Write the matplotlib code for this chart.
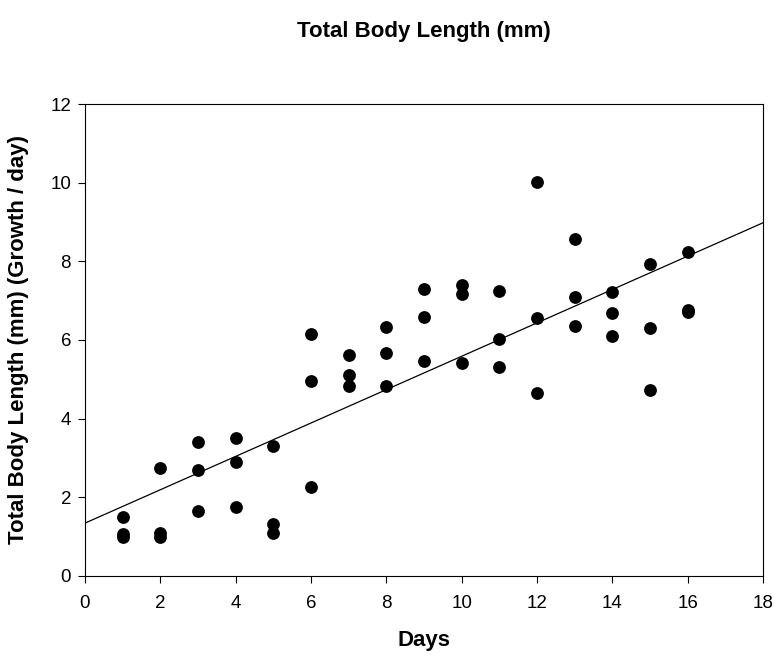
import matplotlib
matplotlib.use("Agg")
import matplotlib.pyplot as plt
import numpy as np

# three replicate measurements per day
days = [1, 2, 3, 4, 5, 6, 7, 8, 9, 10, 11, 12, 13, 14, 15, 16]
rep_a = [1.51, 2.75, 3.40, 3.50, 3.31, 6.14, 5.63, 6.33, 7.29, 7.41, 7.25, 10.01, 8.56, 7.21, 7.93, 8.23]
rep_b = [1.06, 1.09, 2.70, 2.90, 1.31, 4.97, 5.12, 5.66, 6.58, 7.17, 6.03, 6.56, 7.09, 6.68, 6.31, 6.76]
rep_c = [1.00, 1.00, 1.65, 1.75, 1.10, 2.25, 4.83, 4.83, 5.46, 5.41, 5.31, 4.66, 6.36, 6.11, 4.73, 6.70]

x = np.array(days * 3, dtype=float)
y = np.array(rep_a + rep_b + rep_c)

plt.rcParams["font.family"] = ["Liberation Sans", "DejaVu Sans"]

fig = plt.figure(figsize=(7.74, 6.57), dpi=100)
ax = fig.add_axes([0.1098, 0.1233, 0.876, 0.7184])

ax.scatter(x, y, s=85, color="black", zorder=3, linewidths=0)

# linear regression across all replicates
slope, intercept = np.polyfit(x, y, 1)
xs = np.array([0, 18])
ax.plot(xs, intercept + slope * xs, color="black", lw=0.9)

ax.set_xlim(0, 18)
ax.set_ylim(0, 12)
ax.set_xticks(range(0, 19, 2))
ax.set_yticks(range(0, 13, 2))
ax.tick_params(direction="out", length=5, width=0.8, labelsize=13.5, pad=5)
ax.tick_params(axis="x", pad=9)
for sp in ax.spines.values():
    sp.set_linewidth(0.8)

ax.set_title("Total Body Length (mm)", fontsize=16, fontweight="bold", pad=48)
ax.set_xlabel("Days", fontsize=16, fontweight="bold", labelpad=13)
ax.set_ylabel("Total Body Length (mm) (Growth / day)", fontsize=16, fontweight="bold", labelpad=15)

fig.savefig("out.png", dpi=100)
